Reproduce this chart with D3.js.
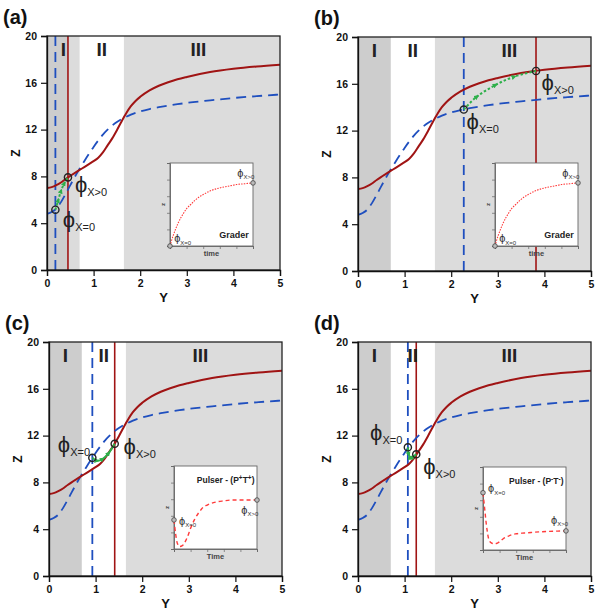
<!DOCTYPE html>
<html><head><meta charset="utf-8">
<script src="https://cdn.jsdelivr.net/npm/d3@7"></script>
<style>body{margin:0;background:#fff}svg{display:block}text{font-family:Arial,"Liberation Sans",sans-serif}</style>
</head><body><svg id="c" width="600" height="611"></svg>
<script>
// ---------- data ----------
const panelNames = ["(a)", "(b)", "(c)", "(d)"];
const curveY = [0,0.1,0.2,0.3,0.4,0.5,0.6,0.7,0.8,0.9,1.0,1.1,1.2,1.3,1.4,1.5,1.6,1.7,1.8,1.9,2.0,2.2,2.4,2.6,2.8,3.0,3.5,4.0,4.5,5.0];
const redZ  = [7.0,7.08,7.25,7.48,7.78,8.05,8.3,8.55,8.8,9.05,9.3,9.6,10.05,10.65,11.25,11.95,12.7,13.4,14.0,14.45,14.8,15.35,15.75,16.05,16.3,16.5,16.92,17.2,17.4,17.55];
const blueZ = [4.8,4.95,5.25,5.8,6.5,7.25,7.98,8.65,9.3,9.92,10.52,11.07,11.57,11.99,12.35,12.65,12.9,13.1,13.28,13.43,13.56,13.76,13.92,14.05,14.17,14.28,14.5,14.7,14.86,15.0];
const xTicks = [0,1,2,3,4,5];
const zTicks = [0,4,8,12,16,20];
const regionBounds = [0, 0.7, 1.65, 5];
const regionLabels = ["I", "II", "III"];
const regionLabelY = [0.35, 1.175, 3.25];
const darkEnd = [0.45, 0.7, 0.7, 0.7];
const blueVLine = [0.18, 2.27, 0.93, 1.07];
const redVLine  = [0.45, 3.82, 1.41, 1.25];
const startPts = [[0.18,5.15],[2.27,13.8],[0.93,10.1],[1.07,11.0]];
const endPts   = [[0.45,7.92],[3.82,17.1],[1.41,11.3],[1.25,10.4]];
const trajA = [[0.18,5.15],[0.24,5.95],[0.3,6.75],[0.37,7.4],[0.45,7.92]];
const trajB = [[2.27,13.8],[2.55,14.9],[2.95,15.9],[3.35,16.6],[3.82,17.1]];
const trajC = [[0.93,10.1],[1.03,9.85],[1.15,10.0],[1.28,10.5],[1.41,11.3]];
const trajD = [[1.07,11.0],[1.09,10.4],[1.13,10.05],[1.19,10.2],[1.25,10.4]];
const trajs = [trajA, trajB, trajC, trajD];
// phi labels: [Y, Z] anchor in data coords
const phi0Pos = [[0.34,4.25],[2.33,12.7],[0.19,11.2],[0.26,12.2]];
const phi1Pos = [[0.6,7.3],[3.94,16.1],[1.6,11.0],[1.4,9.3]];
// insets
const insetTitles = ["Grader","Grader","Pulser","Pulser"];
const insetSigns = [null, null, "+", "-"];
const insetTimeLabel = ["time","time","Time","Time"];
const insetT = [0,0.02,0.04,0.07,0.1,0.13,0.16,0.2,0.25,0.3,0.35,0.4,0.5,0.6,0.7,0.8,0.9,1.0];
const graderZ = [0,0.07,0.13,0.21,0.28,0.34,0.39,0.45,0.5,0.55,0.59,0.62,0.67,0.7,0.72,0.74,0.75,0.76];
const pulserPZ = [0.35,0.18,0.07,0.03,0.04,0.08,0.14,0.25,0.36,0.44,0.5,0.53,0.565,0.58,0.59,0.59,0.59,0.59];
const pulserMZ = [0.69,0.5,0.31,0.13,0.085,0.075,0.078,0.1,0.14,0.165,0.185,0.195,0.205,0.213,0.22,0.225,0.228,0.23];
const insetSeries = [graderZ, graderZ, pulserPZ, pulserMZ];
const insetPhi0 = [[0.05,0.08],[0.05,0.08],[0.06,0.33],[0.06,0.73]];
const insetPhi1 = [[0.81,0.87],[0.81,0.87],[0.81,0.46],[0.82,0.35]];
const insetTicks = [0,0.2,0.4,0.6,0.8,1.0];

// ---------- layout ----------
const L = {
  left: [47, 358, 49, 358], top: [36, 37, 342, 342], w: 233, h: 234,
  inX: [123, 137, 125, 125], inY: [127, 126, 124, 125], inS: 83
};
const RED = "#a01414", BLUE = "#1f4fbf", GREEN = "#2db04a";
const svg = d3.select("#c");
const defs = svg.append("defs");
defs.append("marker").attr("id","arr").attr("viewBox","0 0 10 10").attr("refX",5).attr("refY",5)
  .attr("markerWidth",5).attr("markerHeight",5).attr("orient","auto").attr("markerUnits","userSpaceOnUse")
  .append("path").attr("d","M0,0 L10,5 L0,10 z").attr("fill",GREEN);

panelNames.forEach((name, i) => {
  const g = svg.append("g").attr("transform", `translate(${L.left[i]},${L.top[i]})`);
  const x = d3.scaleLinear().domain([0,5]).range([0, L.w]);
  const y = d3.scaleLinear().domain([0,20]).range([L.h, 0]);
  const cp = "clip" + i;
  defs.append("clipPath").attr("id", cp).append("rect").attr("width", L.w).attr("height", L.h);
  const pg = g.append("g").attr("clip-path", `url(#${cp})`);
  // shading
  pg.append("rect").attr("width", L.w).attr("height", L.h).attr("fill", "#dcdcdc");
  pg.append("rect").attr("x", x(regionBounds[1])).attr("width", x(regionBounds[2]) - x(regionBounds[1]))
    .attr("height", L.h).attr("fill", "#ffffff");
  pg.append("rect").attr("x", x(0)).attr("width", x(darkEnd[i]) - x(0)).attr("height", L.h).attr("fill", "#cdcdcd");
  // vertical lines
  pg.append("line").attr("x1", x(blueVLine[i])).attr("x2", x(blueVLine[i])).attr("y1", 0).attr("y2", L.h)
    .attr("stroke", BLUE).attr("stroke-width", 1.8).attr("stroke-dasharray", "10,6");
  pg.append("line").attr("x1", x(redVLine[i])).attr("x2", x(redVLine[i])).attr("y1", 0).attr("y2", L.h)
    .attr("stroke", RED).attr("stroke-width", 1.6);
  // region labels (on top of lines)
  regionLabels.forEach((r, k) => {
    pg.append("text").attr("x", x(regionLabelY[k])).attr("y", 20).attr("text-anchor", "middle")
      .attr("font-family", "'Times New Roman','Liberation Serif',serif").attr("font-weight", "bold")
      .attr("font-size", 19).attr("fill", "#222").text(r);
  });
  // curves
  const line = d3.line().x(d => x(d[0])).y(d => y(d[1])).curve(d3.curveMonotoneX);
  pg.append("path").datum(curveY.map((v, k) => [v, blueZ[k]])).attr("d", line).attr("fill", "none")
    .attr("stroke", BLUE).attr("stroke-width", 1.8).attr("stroke-dasharray", "10,6");
  pg.append("path").datum(curveY.map((v, k) => [v, redZ[k]])).attr("d", line).attr("fill", "none")
    .attr("stroke", RED).attr("stroke-width", 2);
  // trajectory
  const tl = d3.line().x(d => x(d[0])).y(d => y(d[1])).curve(d3.curveCatmullRom);
  pg.append("path").datum(trajs[i]).attr("d", tl).attr("fill", "none").attr("stroke", GREEN)
    .attr("stroke-width", 2).attr("stroke-dasharray", i >= 2 ? null : "2.5,2").attr("marker-mid", "url(#arr)");
  // points
  [startPts[i], endPts[i]].forEach(p => {
    pg.append("circle").attr("cx", x(p[0])).attr("cy", y(p[1])).attr("r", 3.6)
      .attr("fill", "none").attr("stroke", "#222").attr("stroke-width", 1.4);
  });
  // phi labels
  const phiLab = (pos, sub) => {
    const t = g.append("text").attr("x", x(pos[0])).attr("y", y(pos[1]) + 7).attr("fill", "#222");
    t.append("tspan").attr("font-size", 22).attr("fill", "#222").text("ϕ");
    t.append("tspan").attr("font-size", 11).attr("fill", "#222").attr("dy", 4).text(sub);
  };
  phiLab(phi0Pos[i], "X=0");
  phiLab(phi1Pos[i], "X>0");
  // frame
  g.append("rect").attr("width", L.w).attr("height", L.h).attr("fill", "none").attr("stroke", "#222").attr("stroke-width", 1.3);
  // axes
  const xa = g.append("g").attr("transform", `translate(0,${L.h})`)
    .call(d3.axisBottom(x).tickValues(xTicks).tickSize(6).tickPadding(4).tickFormat(d3.format("d")));
  const ya = g.append("g").call(d3.axisLeft(y).tickValues(zTicks).tickSize(6).tickPadding(4).tickFormat(d3.format("d")));
  [xa, ya].forEach(a => {
    a.selectAll("text").attr("font-size", 10.5).attr("font-weight", "bold").attr("fill", "#111").attr("font-family", "Arial,'Liberation Sans',sans-serif");
    a.selectAll("line").attr("stroke", "#111").attr("stroke-width", 1.2);
    a.select(".domain").attr("stroke", "#111").attr("stroke-width", 1.3);
  });
  g.append("text").attr("x", L.w / 2).attr("y", L.h + 32).attr("text-anchor", "middle")
    .attr("font-size", 13).attr("font-weight", "bold").attr("fill", "#111").text("Y");
  g.append("text").attr("transform", `translate(${-27},${L.h / 2}) rotate(-90)`).attr("text-anchor", "middle")
    .attr("font-size", 12).attr("font-weight", "bold").attr("fill", "#111").text("Z");
  // panel letter
  svg.append("text").attr("x", L.left[i] - 44).attr("y", L.top[i] - 12).attr("font-size", 20)
    .attr("font-weight", "bold").attr("fill", "#111").text(name);

  // ---- inset ----
  const ig = g.append("g").attr("transform", `translate(${L.inX[i]},${L.inY[i]})`);
  const S = L.inS;
  const ix = d3.scaleLinear().domain([0,1]).range([0, S]);
  const iy = d3.scaleLinear().domain([0,1]).range([S, 0]);
  ig.append("rect").attr("width", S).attr("height", S).attr("fill", "#fff").attr("stroke", "#666").attr("stroke-width", 0.9);
  const ixa = ig.append("g").attr("transform", `translate(0,${S})`).call(d3.axisBottom(ix).tickValues(insetTicks).tickSize(3).tickFormat(""));
  const iya = ig.append("g").call(d3.axisLeft(iy).tickValues(insetTicks).tickSize(3).tickFormat(""));
  [ixa, iya].forEach(a => { a.selectAll("line").attr("stroke", "#666").attr("stroke-width", 0.7); a.select(".domain").attr("stroke", "#666").attr("stroke-width", 0.9); });
  ig.append("text").attr("x", S / 2).attr("y", S + 10).attr("text-anchor", "middle").attr("font-size", 7.5)
    .attr("font-weight", "bold").attr("fill", "#444").text(insetTimeLabel[i]);
  ig.append("text").attr("transform", `translate(-5,${S / 2}) rotate(-90)`).attr("text-anchor", "middle")
    .attr("font-size", 6).attr("font-weight", "bold").attr("fill", "#444").text("z");
  const il = d3.line().x(d => ix(d[0])).y(d => iy(d[1])).curve(d3.curveMonotoneX);
  const ser = insetSeries[i];
  ig.append("path").datum(insetT.map((t, k) => [t, ser[k]])).attr("d", il).attr("fill", "none")
    .attr("stroke", "#ff3b3b").attr("stroke-width", i >= 2 ? 1.4 : 1.1).attr("stroke-dasharray", i >= 2 ? "4,3" : "1.5,1.2");
  [[insetT[0], ser[0]], [insetT[insetT.length - 1], ser[ser.length - 1]]].forEach(p => {
    ig.append("circle").attr("cx", ix(p[0])).attr("cy", iy(p[1])).attr("r", 2.3).attr("fill", "#bbb").attr("stroke", "#444").attr("stroke-width", 0.8);
  });
  const iphi = (pos, sub) => {
    const t = ig.append("text").attr("x", ix(pos[0])).attr("y", iy(pos[1]) + 3);
    t.append("tspan").attr("font-size", 11).attr("fill", "#333").text("ϕ");
    t.append("tspan").attr("font-size", 6).attr("fill", "#333").attr("dy", 2.5).text(sub);
  };
  iphi(insetPhi0[i], "X=0");
  iphi(insetPhi1[i], "X>0");
  const tt = ig.append("text").attr("font-weight", "bold").attr("fill", "#222");
  if (insetSigns[i] === null) {
    tt.attr("x", ix(0.95)).attr("y", iy(0.1)).attr("text-anchor", "end").attr("font-size", 9).text(insetTitles[i]);
  } else {
    const s = insetSigns[i] === "+" ? "+" : "-";
    tt.attr("x", ix(0.97)).attr("y", iy(0.79)).attr("text-anchor", "end").attr("font-size", 8.5);
    tt.append("tspan").text(insetTitles[i] + " - (P");
    tt.append("tspan").attr("font-size", 6.5).attr("dy", -3).text(s);
    tt.append("tspan").attr("dy", 3).text("T");
    tt.append("tspan").attr("font-size", 6.5).attr("dy", -3).text(s);
    tt.append("tspan").attr("dy", 3).text(")");
  }
});
</script></body></html>
